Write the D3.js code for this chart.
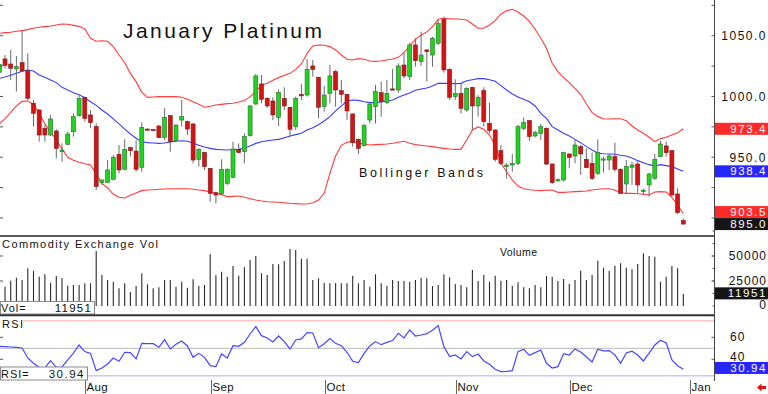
<!DOCTYPE html>
<html>
<head>
<meta charset="utf-8">
<script src="https://cdn.jsdelivr.net/npm/d3@7"></script>
<style>
body { margin: 0; background: #fff; }
svg { display: block; font-family: "Liberation Sans", Arial, sans-serif; }
</style>
</head>
<body>
<script>
// daily bars, first entry is the partly hidden bar at the left edge
var opens = [1019.9,
  1030.9, 1026.7, 1022.6, 1027.8, 1021.2, 994.4, 988.9, 973.8, 968.3, 971.6,
  954.6, 960.6, 971.0, 984.2, 999.3, 984.8, 975.2, 929.1, 929.1, 931.8,
  952.4, 940.1, 957.9, 955.1, 941.7, 973.2, 972.8, 975.7, 966.4, 984.2,
  963.6, 980.6, 979.3, 977.4, 948.3, 954.0, 940.9, 920.8, 919.8, 928.5,
  933.5, 956.5, 954.6, 967.8, 993.8, 1010.3, 998.5, 996.3, 982.8, 998.5,
  991.1, 975.2, 1001.5, 1001.2, 1025.1, 1015.8, 991.6, 1002.6, 1020.4, 1004.8,
  1001.8, 985.6, 964.7, 959.5, 980.6, 991.6, 1003.1, 994.9, 1006.2, 1005.3,
  1025.9, 1016.3, 1042.4, 1028.7, 1038.3, 1034.1, 1043.8, 1063.5, 1022.3, 999.9,
  1002.6, 988.9, 1007.5, 992.2, 1004.8, 977.9, 972.4, 955.4, 942.3, 943.6,
  945.0, 973.8, 980.1, 967.5, 969.7, 973.8, 944.4, 931.0, 931.3, 952.7,
  951.0, 958.7, 948.3, 945.0, 936.8, 948.0, 947.7, 950.5, 940.1, 928.0,
  941.7, 944.4, 922.2, 927.2, 932.6, 950.5, 959.3, 955.4, 919.8, 897.8];
var highs = [1030.0,
  1034.1, 1038.3, 1033.3, 1054.2, 1035.5, 997.1, 989.5, 976.5, 984.8, 973.0,
  961.4, 971.0, 986.1, 1001.2, 999.9, 988.9, 977.9, 931.5, 947.7, 951.8,
  960.1, 964.7, 958.7, 964.2, 978.7, 973.5, 973.0, 976.5, 990.3, 984.8,
  977.0, 997.1, 980.1, 977.8, 957.3, 954.6, 941.2, 921.7, 948.3, 940.9,
  962.8, 961.4, 969.7, 993.0, 1018.5, 1017.7, 999.3, 999.3, 1005.9, 1007.5,
  991.6, 999.9, 1010.3, 1030.6, 1030.0, 1016.3, 1008.6, 1025.9, 1021.8, 1013.6,
  1002.0, 986.1, 965.6, 977.4, 995.7, 1009.5, 1012.2, 1013.6, 1022.6, 1027.3,
  1036.1, 1044.3, 1047.9, 1053.3, 1038.6, 1049.2, 1063.5, 1065.7, 1023.2, 1014.1,
  1010.3, 1007.5, 1008.0, 1001.2, 1007.5, 994.9, 973.0, 960.1, 945.0, 952.7,
  976.5, 982.8, 980.6, 971.9, 977.4, 974.5, 945.0, 932.5, 954.6, 953.2,
  964.2, 960.1, 957.3, 953.8, 964.7, 950.5, 952.7, 962.0, 940.9, 947.7,
  946.4, 946.4, 924.4, 937.3, 952.7, 963.6, 962.8, 956.0, 924.4, 899.7];
var lows = [1018.0,
  1023.2, 1013.6, 1004.0, 1020.2, 997.1, 975.2, 962.8, 962.8, 967.5, 949.1,
  946.4, 960.1, 967.0, 983.4, 979.3, 973.8, 923.1, 927.2, 929.0, 931.3,
  936.8, 939.5, 950.5, 938.1, 938.1, 972.0, 972.0, 965.6, 964.2, 954.6,
  962.8, 975.2, 968.3, 945.0, 942.3, 939.5, 913.4, 912.1, 918.9, 927.2,
  932.6, 953.2, 945.0, 967.0, 993.0, 994.4, 990.3, 980.6, 975.7, 988.9,
  966.4, 972.4, 997.1, 999.9, 1016.3, 982.0, 987.5, 994.4, 991.6, 994.4,
  980.6, 958.7, 952.7, 958.7, 977.9, 977.9, 983.4, 993.8, 1005.3, 1003.1,
  1015.0, 1013.6, 1024.5, 1025.1, 1012.2, 1024.5, 1042.4, 1019.6, 997.1, 997.1,
  986.1, 987.5, 972.4, 983.4, 975.2, 969.7, 946.4, 943.6, 932.6, 938.1,
  943.6, 972.4, 963.6, 966.4, 964.2, 943.6, 928.0, 929.8, 929.9, 940.9,
  945.0, 935.4, 940.9, 931.3, 935.4, 937.3, 939.5, 938.1, 919.8, 919.8,
  927.2, 920.3, 918.9, 917.6, 931.3, 950.0, 950.5, 917.6, 903.3, 894.8];
var closes = [1026.5,
  1025.6, 1023.2, 1024.5, 1021.0, 998.5, 986.1, 968.3, 968.3, 981.5, 957.3,
  955.9, 969.1, 983.4, 998.5, 982.0, 978.5, 925.8, 931.3, 939.5, 949.9,
  939.5, 956.5, 955.4, 940.1, 974.6, 972.4, 972.4, 966.1, 982.8, 962.8,
  976.5, 983.4, 973.2, 947.7, 956.5, 942.3, 920.3, 918.9, 940.1, 940.1,
  956.8, 954.0, 967.0, 992.2, 1016.9, 997.7, 992.2, 984.8, 1003.4, 992.2,
  973.0, 998.5, 1000.7, 1022.3, 1022.3, 991.1, 1001.2, 1016.9, 1005.3, 1001.8,
  988.1, 962.0, 957.3, 976.0, 993.8, 1004.0, 995.7, 1002.6, 1005.6, 1025.1,
  1016.9, 1042.4, 1029.5, 1034.1, 1036.9, 1047.9, 1060.2, 1021.8, 999.3, 1002.6,
  990.3, 1006.7, 992.2, 999.3, 979.3, 971.9, 948.3, 945.0, 943.6, 945.0,
  975.2, 978.7, 967.0, 970.2, 975.2, 944.4, 929.1, 931.5, 953.8, 949.9,
  960.1, 952.7, 941.4, 932.6, 953.8, 948.6, 951.0, 940.1, 920.3, 942.3,
  943.6, 927.2, 922.8, 936.2, 948.3, 960.9, 953.8, 918.9, 904.4, 895.0];
var volumes = [22000,
  19300, 25300, 28300, 26000, 37700, 35300, 29300, 31700, 23300, 30000,
  28000, 20300, 21000, 21000, 22700, 22700, 55000, 31000, 26000, 24300,
  17700, 22700, 14000, 20000, 32700, 21700, 17700, 18700, 26000, 26000,
  19300, 24300, 18300, 26700, 20000, 21000, 51700, 30700, 34300, 29300,
  40000, 30300, 38700, 46000, 50000, 32700, 31000, 42000, 41700, 45000,
  57000, 56000, 47300, 47300, 26000, 27700, 23300, 22700, 22700, 22700,
  22700, 30300, 22700, 26000, 19300, 31700, 22700, 20000, 26000, 25000,
  25000, 24300, 26000, 28300, 27700, 20000, 21000, 31700, 28700, 22000,
  21000, 18700, 36000, 25000, 31000, 24300, 30300, 25300, 26000, 20000,
  23700, 18700, 17700, 21000, 18700, 30000, 29300, 25000, 27000, 22000,
  26000, 35300, 26000, 31000, 45300, 38300, 35000, 40300, 42700, 38300,
  36700, 42000, 52700, 50000, 49300, 24300, 29300, 40000, 37700, 11951];
var rsiValues = [51.8,
  51.5, 51.2, 50.9, 50.3, 41.2, 36.4, 32.7, 32.1, 38.8, 32.7,
  33.0, 39.4, 45.7, 53.0, 47.0, 45.4, 29.7, 32.1, 35.8, 41.2,
  38.2, 46.4, 46.1, 40.3, 54.5, 54.2, 54.2, 50.9, 57.9, 49.4,
  53.6, 56.7, 52.1, 41.8, 45.4, 41.8, 34.2, 33.3, 44.8, 41.2,
  52.4, 51.8, 55.4, 63.0, 69.7, 61.5, 59.4, 55.7, 61.2, 56.1,
  49.4, 57.6, 58.5, 64.2, 63.9, 50.6, 54.2, 58.8, 54.5, 52.4,
  46.4, 38.2, 37.0, 45.4, 52.1, 56.1, 53.3, 55.4, 57.0, 63.6,
  59.4, 66.7, 61.2, 62.1, 63.3, 66.4, 70.6, 51.5, 42.4, 43.9,
  40.3, 47.0, 42.4, 44.8, 38.5, 35.4, 30.9, 28.8, 29.1, 29.7,
  47.0, 49.1, 43.6, 46.1, 48.5, 36.4, 32.1, 33.3, 45.1, 43.9,
  49.4, 46.7, 42.1, 37.6, 49.1, 47.6, 47.9, 43.9, 36.4, 45.7,
  47.3, 43.9, 38.5, 45.7, 53.0, 57.3, 54.8, 39.4, 34.2, 30.94];
var bandUpper = [1052.0,
  1052.5, 1052.8, 1053.6, 1054.2, 1055.0, 1056.1, 1056.9, 1057.5, 1058.0, 1058.8,
  1059.6, 1059.4, 1058.5, 1057.7, 1055.5, 1047.9, 1045.4, 1045.9, 1045.4, 1041.0,
  1034.1, 1027.8, 1019.0, 1012.2, 1003.4, 999.3, 999.6, 999.9, 999.9, 999.9,
  999.9, 999.3, 997.7, 995.7, 993.5, 991.1, 991.9, 993.0, 993.5, 994.1,
  994.4, 995.5, 996.6, 999.9, 1004.0, 1009.5, 1010.8, 1013.3, 1015.5, 1017.4,
  1019.0, 1022.3, 1026.7, 1035.5, 1041.5, 1042.4, 1042.1, 1041.0, 1038.3, 1034.1,
  1030.6, 1030.0, 1031.1, 1030.6, 1029.2, 1028.9, 1029.2, 1030.0, 1030.8, 1032.2,
  1036.1, 1041.5, 1047.0, 1050.3, 1053.1, 1057.5, 1063.5, 1064.3, 1064.0, 1063.8,
  1063.5, 1062.9, 1059.6, 1056.1, 1056.1, 1058.8, 1062.4, 1067.9, 1070.6, 1071.7,
  1069.5, 1066.2, 1061.8, 1055.3, 1047.9, 1039.6, 1027.3, 1020.4, 1015.5, 1011.4,
  1006.7, 1001.8, 993.8, 986.7, 983.4, 981.7, 981.5, 981.7, 981.7, 980.1,
  975.7, 972.4, 969.7, 966.4, 962.8, 965.3, 966.4, 968.3, 970.2, 973.4];
var bandMiddle = [1014.9,
  1016.0, 1017.4, 1019.1, 1020.7, 1021.8, 1021.0, 1017.7, 1015.8, 1013.6, 1011.4,
  1007.5, 1005.3, 1003.1, 1001.5, 999.0, 995.7, 992.7, 988.9, 985.6, 981.5,
  977.4, 973.2, 969.1, 965.6, 962.8, 962.0, 961.7, 961.4, 961.7, 962.6,
  963.1, 963.6, 963.1, 961.7, 959.8, 958.4, 957.3, 956.5, 956.2, 955.9,
  956.2, 956.5, 957.6, 959.3, 961.4, 962.8, 963.6, 964.2, 964.7, 966.1,
  967.5, 968.6, 969.7, 972.4, 974.3, 976.8, 979.8, 983.4, 988.1, 992.2,
  996.3, 997.1, 996.8, 995.7, 994.9, 994.9, 995.5, 996.3, 997.1, 999.3,
  1001.2, 1002.9, 1005.1, 1006.2, 1007.0, 1008.6, 1010.8, 1010.8, 1010.8, 1010.6,
  1010.8, 1013.0, 1013.8, 1014.7, 1014.7, 1013.8, 1012.5, 1008.9, 1005.3, 1002.0,
  999.6, 997.7, 995.7, 992.2, 986.1, 982.0, 975.2, 972.4, 969.7, 967.5,
  964.7, 962.0, 958.7, 955.9, 953.5, 952.9, 952.7, 952.4, 951.6, 951.0,
  949.4, 947.2, 945.5, 943.9, 942.8, 943.9, 943.1, 942.3, 940.3, 938.4];
var bandLower = [977.4,
  981.5, 987.0, 992.2, 996.0, 996.3, 993.5, 986.1, 977.4, 970.8, 964.5,
  956.8, 949.9, 947.5, 945.8, 944.7, 943.6, 936.2, 928.5, 924.7, 919.5,
  917.0, 916.5, 918.7, 920.6, 922.5, 923.0, 923.3, 923.6, 923.9, 924.1,
  924.1, 924.1, 924.1, 923.6, 923.0, 922.5, 921.4, 920.3, 919.2, 917.6,
  917.8, 918.1, 917.0, 915.9, 914.8, 914.0, 913.4, 913.2, 912.9, 912.6,
  912.1, 911.8, 911.5, 911.5, 912.6, 914.8, 920.3, 936.8, 951.0, 959.8,
  962.3, 962.8, 961.7, 960.9, 960.1, 960.4, 960.6, 960.9, 961.5, 962.3,
  963.1, 961.5, 960.4, 959.8, 959.3, 958.7, 957.9, 957.3, 956.8, 956.5,
  956.5, 964.2, 972.4, 974.9, 973.0, 968.3, 960.1, 945.0, 938.1, 931.3,
  926.3, 924.1, 923.3, 922.8, 922.5, 922.8, 923.0, 921.1, 921.1, 921.4,
  921.7, 921.9, 922.2, 923.0, 923.6, 924.1, 924.1, 923.0, 920.8, 920.3,
  920.3, 920.0, 919.5, 918.9, 921.4, 921.7, 921.4, 917.0, 910.7, 903.5];
// index of the first bar of each month
var monthNames = ["Aug", "Sep", "Oct", "Nov", "Dec", "Jan"];
var monthStart = [16, 38, 58, 81, 101, 122];
var priceTicks = [1050, 1000, 950];
var volumeTicks = [50000, 25000, 0];
var rsiTicks = [60, 40];
var rsiLevels = [75, 50, 25];

var W = 768, H = 394, axisX = 714.5;
var N = closes.length;

var svg = d3.select('body').append('svg')
    .attr('width', W)
    .attr('height', H);
svg.append('rect').attr('width', W).attr('height', H).attr('fill', '#fff');

var x = d3.scaleLinear().domain([0, N - 1]).range([-0.7, 683.3]);
var yP = d3.scaleLinear().domain([900, 1050]).range([218.0, 35.7]);
var yV = d3.scaleLinear().domain([0, 50000]).range([306, 256]);
var yR = d3.scaleLinear().domain([25, 75]).range([375.8, 320.8]);

var defs = svg.append('defs');
function clip(id, y0, y1) {
    defs.append('clipPath').attr('id', id)
        .append('rect').attr('x', 0).attr('y', y0).attr('width', axisX).attr('height', y1 - y0);
}
clip('cp', 0, 235);
clip('cv', 237, 314);
clip('cr', 317, 381);

function label(g, txt, px, py, size, opts) {
    opts = opts || {};
    var t = g.append('text')
        .attr('x', px).attr('y', py)
        .attr('font-size', size)
        .attr('fill', opts.fill || '#111')
        .attr('text-anchor', opts.anchor || 'start')
        .text(txt);
    if (opts.spacing) t.attr('letter-spacing', opts.spacing);
    if (opts.len) t.attr('textLength', opts.len).attr('lengthAdjust', 'spacing');
    return t;
}

// ---- price panel ----
var gp = svg.append('g').attr('clip-path', 'url(#cp)');
var bandLine = d3.line().x(function (d, i) { return x(i); }).y(function (d) { return yP(d); });
[[bandUpper, '#ff3b3b'], [bandLower, '#ff3b3b'], [bandMiddle, '#3a3aff']].forEach(function (b) {
    gp.append('path').datum(b[0])
        .attr('d', bandLine)
        .attr('fill', 'none')
        .attr('stroke', b[1])
        .attr('stroke-width', 1.1);
});

var candles = gp.selectAll('g.candle').data(d3.range(N)).join('g').attr('class', 'candle');
candles.append('line')
    .attr('x1', function (i) { return x(i); })
    .attr('x2', function (i) { return x(i); })
    .attr('y1', function (i) { return yP(highs[i]); })
    .attr('y2', function (i) { return yP(lows[i]); })
    .attr('stroke', '#6a6a6a')
    .attr('stroke-width', 1);
candles.append('rect')
    .attr('x', function (i) { return x(i) - 2; })
    .attr('width', 4)
    .attr('y', function (i) { return yP(Math.max(opens[i], closes[i])); })
    .attr('height', function (i) { return Math.max(1.2, Math.abs(yP(opens[i]) - yP(closes[i]))); })
    .attr('fill', function (i) { return closes[i] >= opens[i] ? '#1fd41f' : '#d41414'; })
    .attr('stroke', function (i) { return closes[i] >= opens[i] ? '#2f6a2f' : '#7a1a1a'; })
    .attr('stroke-width', 0.6);

label(svg, 'January Platinum', 123, 37.7, 21, { len: 199 });
label(svg, 'Bollinger Bands', 359, 176.5, 12.5, { len: 124 });

// ---- volume panel ----
var gv = svg.append('g').attr('clip-path', 'url(#cv)');
gv.selectAll('line.vol').data(volumes).join('line')
    .attr('class', 'vol')
    .attr('x1', function (d, i) { return x(i); })
    .attr('x2', function (d, i) { return x(i); })
    .attr('y1', yV(0))
    .attr('y2', function (d) { return yV(d); })
    .attr('stroke', '#2a2a2a')
    .attr('stroke-width', 1.1);
label(svg, 'Commodity Exchange Vol', 2, 248.3, 11, { len: 156 });
label(svg, 'Volume', 500, 256, 10.5, { len: 37 });

svg.append('rect').attr('x', 0.5).attr('y', 301.5).attr('width', 94).attr('height', 12.5)
    .attr('fill', '#fff').attr('stroke', '#8a8a8a');
label(svg, 'Vol=', 1, 311.5, 11, { spacing: 1 });
label(svg, volumes[N - 1], 92, 311.5, 11.5, { anchor: 'end', spacing: 1.2 });

// ---- RSI panel ----
var gr = svg.append('g').attr('clip-path', 'url(#cr)');
var levelColors = ['#ffc4c4', '#b8b8b8', '#c8c8ff'];
rsiLevels.forEach(function (v, k) {
    gr.append('line')
        .attr('x1', 0).attr('x2', axisX)
        .attr('y1', yR(v)).attr('y2', yR(v))
        .attr('stroke', levelColors[k])
        .attr('stroke-width', k === 1 ? 1 : 1.6);
});
gr.append('path').datum(rsiValues)
    .attr('d', d3.line().x(function (d, i) { return x(i); }).y(function (d) { return yR(d); }))
    .attr('fill', 'none')
    .attr('stroke', '#4646ff')
    .attr('stroke-width', 1.2);
svg.append('rect').attr('x', 0).attr('y', 318).attr('width', 23).attr('height', 11).attr('fill', '#fff');
label(svg, 'RSI', 2, 327.5, 11, { spacing: 1.3 });

svg.append('rect').attr('x', 0.5).attr('y', 367).attr('width', 87).attr('height', 13)
    .attr('fill', '#fff').attr('stroke', '#8a8a8a');
label(svg, 'RSI=', 1, 377.5, 11, { spacing: 1 });
label(svg, rsiValues[N - 1].toFixed(2), 85, 377.5, 11.5, { anchor: 'end', spacing: 1.5 });

// ---- frame lines ----
svg.append('line').attr('x1', 0).attr('x2', axisX).attr('y1', 236).attr('y2', 236)
    .attr('stroke', '#222').attr('stroke-width', 1.4);
svg.append('line').attr('x1', 0).attr('x2', axisX).attr('y1', 315.3).attr('y2', 315.3)
    .attr('stroke', '#333').attr('stroke-width', 2);
svg.append('line').attr('x1', axisX).attr('x2', axisX).attr('y1', 0).attr('y2', 381)
    .attr('stroke', '#444').attr('stroke-width', 1);

// small ticks on both edges
var tickYs = d3.range(900, 1076, 25).map(yP)
    .concat(volumeTicks.slice(0, 2).map(yV))
    .concat(rsiTicks.map(yR));
tickYs.forEach(function (ty) {
    svg.append('line').attr('x1', 0).attr('x2', 3).attr('y1', ty).attr('y2', ty)
        .attr('stroke', '#555');
    svg.append('line').attr('x1', axisX - 3).attr('x2', axisX).attr('y1', ty).attr('y2', ty)
        .attr('stroke', '#555');
});
d3.range(0, 75001, 12500).forEach(function (v) {
    svg.append('line').attr('x1', axisX - 2).attr('x2', axisX).attr('y1', yV(v)).attr('y2', yV(v))
        .attr('stroke', '#555');
});

// ---- right axis labels ----
priceTicks.forEach(function (v) {
    label(svg, v.toFixed(1), 767, yP(v) + 4.3, 12, { anchor: 'end', spacing: 1.5 });
});
volumeTicks.forEach(function (v) {
    label(svg, String(v), 767, Math.min(yV(v) + 4.3, 308.5), 12, { anchor: 'end', spacing: 1 });
});
rsiTicks.forEach(function (v) {
    label(svg, String(v), 730, Math.min(yR(v) + 3.5, 361), 12, { spacing: 1 });
});

function valueBox(v, yy, fill, txt) {
    svg.append('rect').attr('x', 715).attr('y', yy - 6).attr('width', 53).attr('height', 12)
        .attr('fill', fill);
    label(svg, txt, 767, yy + 4, 11.5, { anchor: 'end', spacing: 1.6, fill: '#fff' });
}
var boxes = [
    { v: bandUpper[N - 1], fill: '#ff2a2a' },
    { v: bandMiddle[N - 1], fill: '#2626ff' },
    { v: bandLower[N - 1], fill: '#ff2a2a' },
    { v: closes[N - 1], fill: '#151515' }
];
boxes.forEach(function (b) { b.y = yP(b.v); });
for (var k = boxes.length - 2; k >= 0; k--) {
    if (boxes[k + 1].y - boxes[k].y < 12) boxes[k].y = boxes[k + 1].y - 12;
}
boxes.forEach(function (b) { valueBox(b.v, b.y, b.fill, b.v.toFixed(1)); });
valueBox(volumes[N - 1], yV(volumes[N - 1]) - 0.7, '#151515', String(volumes[N - 1]));
valueBox(rsiValues[N - 1], yR(rsiValues[N - 1]) - 1.3, '#2626ff', rsiValues[N - 1].toFixed(2));

// ---- months ----
monthStart.forEach(function (idx, k) {
    var mx = Math.round(x(idx) - 5) + 0.5;
    svg.append('line').attr('x1', mx).attr('x2', mx).attr('y1', 380).attr('y2', 394)
        .attr('stroke', '#666');
    label(svg, monthNames[k], mx + 1, 390.7, 11.5, { spacing: 0.3 });
});

// red arrow bottom right
svg.append('path')
    .attr('d', 'M757,387.5L761.5,383.5L761.5,386L766,386L766,389L761.5,389L761.5,391.5Z')
    .attr('fill', '#e01010');
</script>
</body>
</html>
